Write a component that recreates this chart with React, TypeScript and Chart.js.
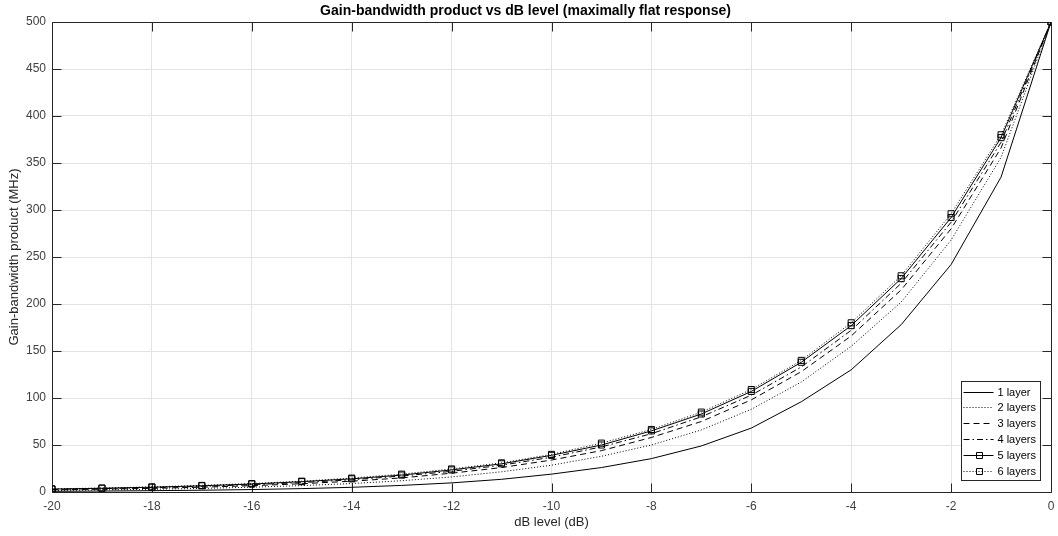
import React, { useEffect, useRef } from "react";
import { Chart, registerables } from "chart.js";

Chart.register(...registerables);

// ---- data ----
const dbLevels = [-20, -19, -18, -17, -16, -15, -14, -13, -12, -11, -10, -9, -8, -7, -6, -5, -4, -3, -2, -1, 0];

const layer1 = [0.7, 1.0, 1.4, 1.9, 2.6, 3.6, 5, 7, 9.7, 13.5, 19, 26, 35.5, 49, 68, 96, 130, 178, 242, 335, 500];
const layer2 = [1.6, 2.2, 2.9, 3.8, 5.1, 6.8, 9, 12, 16, 21.5, 28.5, 38, 50, 66, 88, 117, 155, 202, 268, 356, 500];
const layer3 = [2.3, 3.0, 3.9, 5.1, 6.7, 8.8, 11.5, 15, 20, 26, 34, 44, 58, 75, 98, 128, 166, 215, 280, 366, 500];
const layer4 = [2.8, 3.6, 4.6, 6, 7.8, 10, 13, 17, 22, 28.5, 37, 48, 62, 80, 103, 133, 172, 222, 287, 372, 500];
const layer5 = [3.1, 4, 5.1, 6.6, 8.5, 11, 14, 18, 23.5, 30, 39, 50, 65, 83, 107, 138, 177, 227, 292, 377, 500];
const layer6 = [3.3, 4.2, 5.4, 7, 9, 11.5, 14.8, 19, 24.5, 31, 40, 52, 66.5, 85, 109, 140, 180, 230, 296, 380, 500];

const seriesNames = ["1 layer", "2 layers", "3 layers", "4 layers", "5 layers", "6 layers"];
const seriesValues = [layer1, layer2, layer3, layer4, layer5, layer6];

const titleText = "Gain-bandwidth product vs dB level (maximally flat response)";
const xTitle = "dB level (dB)";
const yTitle = "Gain-bandwidth product (MHz)";

// ---- styles ----
const FONT = "'Liberation Sans', Arial, Helvetica, sans-serif";
const AXIS_COLOR = "#262626";
const TICK_TEXT = "#404040";
const GRID_COLOR = "#e3e3e3";
const dashStyles: number[][] = [[], [1, 2], [6, 4], [6, 3, 1.5, 3], [], [1, 2]];
const hasMarker = [false, false, false, false, true, true];

const framePlugin = {
  id: "frame",
  beforeDatasetsDraw(chart: any) {
    const { ctx, chartArea: a, scales } = chart;
    const L = Math.round(a.left) + 0.5;
    const R = Math.round(a.right) + 0.5;
    const T = Math.round(a.top) + 0.5;
    const B = Math.round(a.bottom) + 0.5;
    const TL = 9;
    ctx.save();
    ctx.strokeStyle = AXIS_COLOR;
    ctx.lineWidth = 1;
    ctx.setLineDash([]);
    ctx.beginPath();
    scales.x.ticks.forEach((t: any) => {
      const px = Math.round(scales.x.getPixelForValue(t.value)) + 0.5;
      ctx.moveTo(px, B);
      ctx.lineTo(px, B - TL);
      ctx.moveTo(px, T);
      ctx.lineTo(px, T + TL);
    });
    scales.y.ticks.forEach((t: any) => {
      const py = Math.round(scales.y.getPixelForValue(t.value)) + 0.5;
      ctx.moveTo(L, py);
      ctx.lineTo(L + TL, py);
      ctx.moveTo(R, py);
      ctx.lineTo(R - TL, py);
    });
    ctx.rect(L, T, R - L, B - T);
    ctx.stroke();
    ctx.restore();
  },
};

const legendPlugin = {
  id: "matlabLegend",
  afterDraw(chart: any) {
    const { ctx, chartArea: a } = chart;
    const boxR = Math.round(a.right) - 10.5;
    const boxB = Math.round(a.bottom) - 11.5;
    const boxW = 79;
    const rowH = 15.9;
    const boxH = 99;
    const boxL = boxR - boxW;
    const boxT = boxB - boxH;
    ctx.save();
    ctx.fillStyle = "#ffffff";
    ctx.fillRect(boxL, boxT, boxW, boxH);
    ctx.strokeStyle = AXIS_COLOR;
    ctx.lineWidth = 1;
    ctx.setLineDash([]);
    ctx.strokeRect(boxL, boxT, boxW, boxH);
    ctx.font = `11px ${FONT}`;
    ctx.textBaseline = "middle";
    ctx.textAlign = "left";
    chart.data.datasets.forEach((ds: any, i: number) => {
      const y = Math.round(boxT + 10 + i * rowH) + 0.5;
      const x0 = boxL + 2;
      const x1 = boxL + 32;
      ctx.strokeStyle = "#000";
      ctx.lineWidth = 1;
      ctx.setLineDash(ds.borderDash || []);
      ctx.beginPath();
      ctx.moveTo(x0, y);
      ctx.lineTo(x1, y);
      ctx.stroke();
      ctx.setLineDash([]);
      if (hasMarker[i]) {
        const cx = Math.round((x0 + x1) / 2) + 0.5;
        ctx.fillStyle = "#ffffff";
        ctx.beginPath();
        ctx.rect(cx - 3, y - 3, 6, 6);
        ctx.stroke();
      }
      ctx.fillStyle = "#000";
      ctx.fillText(ds.label, boxL + 36, y);
    });
    ctx.restore();
  },
};

export default function App() {
  const canvasRef = useRef<HTMLCanvasElement | null>(null);

  useEffect(() => {
    if (!canvasRef.current) return;
    const datasets = seriesNames.map((name, i) => ({
      label: name,
      data: dbLevels.map((x, j) => ({ x, y: seriesValues[i][j] })),
      borderColor: "#000000",
      backgroundColor: "rgba(0,0,0,0)",
      borderWidth: 1,
      borderDash: dashStyles[i],
      pointStyle: "rect" as const,
      pointRadius: hasMarker[i] ? 4.3 : 0,
      pointBorderColor: "#000000",
      pointBackgroundColor: "rgba(0,0,0,0)",
      pointBorderWidth: 1,
      tension: 0,
      fill: false,
    }));

    const chart = new Chart(canvasRef.current, {
      type: "line",
      data: { datasets },
      plugins: [framePlugin, legendPlugin],
      options: {
        animation: false,
        responsive: false,
        maintainAspectRatio: false,
        layout: { padding: { top: 0, right: 7, bottom: 0, left: 0 } },
        plugins: {
          legend: { display: false },
          tooltip: { enabled: false },
          title: {
            display: true,
            text: titleText,
            color: "#000",
            font: { family: FONT, size: 14, weight: "bold", lineHeight: "14px" },
            padding: { top: 4, bottom: 4 },
          },
        },
        scales: {
          x: {
            type: "linear",
            min: -20,
            max: 0,
            afterFit: (s: any) => {
              s.height = 44;
              s.paddingRight = 0;
              s.paddingLeft = 0;
            },
            ticks: {
              stepSize: 2,
              padding: 7,
              color: TICK_TEXT,
              font: { family: FONT, size: 12 },
              maxRotation: 0,
            },
            grid: { color: GRID_COLOR, drawTicks: false },
            border: { display: false },
            title: {
              display: true,
              text: xTitle,
              color: "#262626",
              font: { family: FONT, size: 13 },
              padding: { top: 0, bottom: 6 },
            },
          },
          y: {
            type: "linear",
            min: 0,
            max: 500,
            afterFit: (s: any) => {
              s.width = 52;
            },
            ticks: {
              stepSize: 50,
              padding: 6,
              color: TICK_TEXT,
              font: { family: FONT, size: 12 },
            },
            grid: { color: GRID_COLOR, drawTicks: false },
            border: { display: false },
            title: {
              display: true,
              text: yTitle,
              color: "#262626",
              font: { family: FONT, size: 13 },
              padding: { top: 7, bottom: 0 },
            },
          },
        },
      },
    });
    return () => chart.destroy();
  }, []);

  return (
    <div style={{ position: "fixed", left: 0, top: 0, width: 1058, height: 536, background: "#fff" }}>
      <canvas ref={canvasRef} width={1058} height={536} style={{ display: "block", width: 1058, height: 536 }} />
    </div>
  );
}
